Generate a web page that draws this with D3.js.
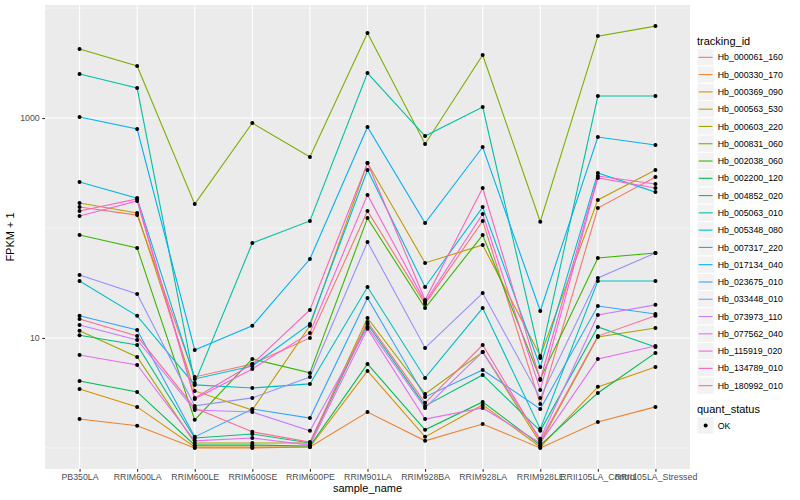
<!DOCTYPE html>
<html>
<head>
<meta charset="utf-8">
<script src="https://cdn.jsdelivr.net/npm/d3@7"></script>
<style>
  body { margin: 0; background: #fff; }
  svg text { font-family: "Liberation Sans", Arial, sans-serif; }
</style>
</head>
<body>
<svg id="chart" width="800" height="500"></svg>
<script>
// samples on the x axis
const samples = ['PB350LA', 'RRIM600LA', 'RRIM600LE', 'RRIM600SE', 'RRIM600PE', 'RRIM901LA',
  'RRIM928BA', 'RRIM928LA', 'RRIM928LE', 'RRII105LA_Control', 'RRII105LA_Stressed'];

// FPKM + 1 per gene, one value per sample
const Hb_000061_160 = [155, 131, 4.42, 5.80, 10.0, 143, 20.4, 116, 2.51, 152, 291];
const Hb_000330_170 = [1.83, 1.59, 1.0, 1.0, 1.02, 2.12, 1.16, 1.65, 1.0, 1.72, 2.36];
const Hb_000369_090 = [3.44, 2.36, 1.02, 1.02, 1.02, 5.01, 1.26, 2.46, 1.02, 3.59, 5.45];
const Hb_000563_530 = [169, 137, 3.30, 2.21, 12.9, 390, 48.1, 70.0, 6.86, 180, 337];
const Hb_000603_220 = [11.6, 6.72, 1.11, 1.11, 1.11, 15.2, 3.10, 7.46, 1.11, 10.2, 12.3];
const Hb_000831_060 = [4240, 2970, 165, 901, 442, 5930, 581, 3740, 114, 5560, 6860];
const Hb_002038_060 = [86.3, 65.8, 1.80, 6.44, 4.81, 123, 18.7, 86.3, 4.24, 53.4, 59.3];
const Hb_002200_120 = [4.06, 3.23, 1.06, 1.06, 1.04, 5.80, 1.46, 2.62, 1.06, 3.16, 7.31];
const Hb_004852_020 = [10.6, 8.63, 1.23, 1.34, 1.11, 13.4, 2.41, 4.61, 1.43, 12.6, 8.28];
const Hb_005063_010 = [2512, 1875, 3.90, 73.1, 116, 2566, 686, 1259, 6.58, 1585, 1585];
const Hb_005348_080 = [33.0, 15.9, 3.74, 3.51, 3.82, 29.1, 4.33, 18.7, 1.49, 33.0, 33.0];
const Hb_007317_220 = [262, 187, 4.24, 5.56, 13.4, 337, 29.1, 155, 5.45, 316, 212];
const Hb_017134_040 = [1021, 794, 7.78, 12.9, 52.2, 828, 111, 545, 17.6, 672, 568];
const Hb_023675_010 = [15.9, 11.8, 1.26, 2.26, 1.87, 23.1, 2.91, 5.12, 2.26, 19.5, 16.5];
const Hb_033448_010 = [37.4, 25.1, 2.41, 2.85, 4.42, 74.6, 8.11, 25.6, 2.85, 35.1, 59.3];
const Hb_073973_110 = [13.1, 9.6, 2.21, 2.12, 1.43, 12.6, 2.31, 7.46, 1.21, 16.2, 20.0];
const Hb_077562_040 = [7.0, 5.68, 1.16, 1.23, 1.06, 12.1, 1.83, 2.31, 1.11, 6.44, 8.46];
const Hb_115919_020 = [128.5, 176, 2.79, 5.23, 11.1, 200, 21.2, 134, 3.37, 285, 231];
const Hb_134789_010 = [143, 184, 2.85, 5.80, 18.0, 390, 22.1, 231, 4.15, 297, 251];
const Hb_180992_010 = [14.9, 10.4, 2.31, 1.40, 1.13, 14.0, 2.57, 8.63, 1.16, 10.4, 15.9];

const trackingIds = ['Hb_000061_160', 'Hb_000330_170', 'Hb_000369_090', 'Hb_000563_530',
  'Hb_000603_220', 'Hb_000831_060', 'Hb_002038_060', 'Hb_002200_120', 'Hb_004852_020',
  'Hb_005063_010', 'Hb_005348_080', 'Hb_007317_220', 'Hb_017134_040', 'Hb_023675_010',
  'Hb_033448_010', 'Hb_073973_110', 'Hb_077562_040', 'Hb_115919_020', 'Hb_134789_010',
  'Hb_180992_010'];
const seriesValues = [Hb_000061_160, Hb_000330_170, Hb_000369_090, Hb_000563_530,
  Hb_000603_220, Hb_000831_060, Hb_002038_060, Hb_002200_120, Hb_004852_020,
  Hb_005063_010, Hb_005348_080, Hb_007317_220, Hb_017134_040, Hb_023675_010,
  Hb_033448_010, Hb_073973_110, Hb_077562_040, Hb_115919_020, Hb_134789_010,
  Hb_180992_010];

const yMajor = [10, 1000];
const yMinor = [1, 100, 10000];
const quantStatus = ['OK'];

// ggplot hue palette for 20 levels
const palette = ['#F8766D', '#EA8331', '#D89000', '#C09B00', '#A3A500', '#7CAE00', '#39B600',
  '#00BB4E', '#00BF7D', '#00C1A3', '#00BFC4', '#00BAE0', '#00B0F6', '#35A2FF', '#9590FF',
  '#C77CFF', '#E76BF3', '#FA62DB', '#FF62BC', '#FF6C91'];

const series = trackingIds.map((id, i) => ({
  id: id,
  points: samples.map((s, j) => ({sample: s, value: seriesValues[i][j]}))
}));

const panel = {left: 45, right: 690, top: 5, bottom: 469};
const svg = d3.select('#chart');

const color = d3.scaleOrdinal().domain(trackingIds).range(palette);

const x = d3.scalePoint()
  .domain(samples)
  .range([panel.left, panel.right])
  .padding(0.6);

// log scale with the 5% expansion ggplot adds
const allVals = seriesValues.flat();
const lo = Math.log10(d3.min(allVals));
const hi = Math.log10(d3.max(allVals));
const pad = (hi - lo) * 0.05;
const y = d3.scaleLog()
  .domain([Math.pow(10, lo - pad), Math.pow(10, hi + pad)])
  .range([panel.bottom, panel.top]);

// panel background and grid
svg.append('rect')
  .attr('x', panel.left).attr('y', panel.top)
  .attr('width', panel.right - panel.left).attr('height', panel.bottom - panel.top)
  .attr('fill', '#EBEBEB');

const grid = svg.append('g');
grid.selectAll('.minor').data(yMinor).enter().append('line')
  .attr('x1', panel.left).attr('x2', panel.right)
  .attr('y1', d => y(d)).attr('y2', d => y(d))
  .attr('stroke', '#fff').attr('stroke-width', 0.55);
grid.selectAll('.major').data(yMajor).enter().append('line')
  .attr('x1', panel.left).attr('x2', panel.right)
  .attr('y1', d => y(d)).attr('y2', d => y(d))
  .attr('stroke', '#fff').attr('stroke-width', 1.1);
grid.selectAll('.vert').data(samples).enter().append('line')
  .attr('x1', d => x(d)).attr('x2', d => x(d))
  .attr('y1', panel.top).attr('y2', panel.bottom)
  .attr('stroke', '#fff').attr('stroke-width', 1.1);

// lines
const line = d3.line()
  .x(d => x(d.sample))
  .y(d => y(d.value));

svg.append('g').selectAll('path')
  .data(series)
  .enter().append('path')
  .attr('d', d => line(d.points))
  .attr('fill', 'none')
  .attr('stroke', d => color(d.id))
  .attr('stroke-width', 1.1);

// points
svg.append('g').selectAll('g')
  .data(series)
  .enter().append('g')
  .selectAll('circle')
  .data(d => d.points)
  .enter().append('circle')
  .attr('cx', d => x(d.sample))
  .attr('cy', d => y(d.value))
  .attr('r', 2)
  .attr('fill', '#000');

// axes
const xAxis = svg.append('g')
  .attr('transform', `translate(0, ${panel.bottom})`)
  .call(d3.axisBottom(x).tickSize(2.75).tickPadding(2.5));
const yAxis = svg.append('g')
  .attr('transform', `translate(${panel.left}, 0)`)
  .call(d3.axisLeft(y).tickValues(yMajor).tickFormat(d3.format('d')).tickSize(2.75).tickPadding(2.5));

[xAxis, yAxis].forEach(a => {
  a.select('.domain').remove();
  a.selectAll('.tick line').attr('stroke', '#333333').attr('stroke-width', 1.1);
  a.selectAll('.tick text')
    .attr('fill', '#4D4D4D')
    .style('font-size', '8.8px')
    .style('font-family', '"Liberation Sans", Arial, sans-serif');
});

svg.append('text')
  .attr('x', (panel.left + panel.right) / 2)
  .attr('y', 492)
  .attr('text-anchor', 'middle')
  .style('font-size', '11px')
  .text('sample_name');

svg.append('text')
  .attr('transform', `translate(14, ${(panel.top + panel.bottom) / 2}) rotate(-90)`)
  .attr('text-anchor', 'middle')
  .style('font-size', '11px')
  .text('FPKM + 1');

// legend: tracking_id
const legX = 697;
const keySize = 17.28;
const leg = svg.append('g');
leg.append('text')
  .attr('x', legX).attr('y', 44.5)
  .style('font-size', '11px')
  .text('tracking_id');

const keyTop = 48.7;
const keys = leg.selectAll('.key')
  .data(trackingIds)
  .enter().append('g')
  .attr('transform', (d, i) => `translate(${legX}, ${keyTop + i * keySize})`);
keys.append('rect')
  .attr('width', keySize).attr('height', keySize)
  .attr('fill', '#F2F2F2').attr('stroke', '#fff').attr('stroke-width', 1);
keys.append('line')
  .attr('x1', 1.7).attr('x2', keySize - 1.7)
  .attr('y1', keySize / 2).attr('y2', keySize / 2)
  .attr('stroke', d => color(d)).attr('stroke-width', 1.1);
keys.append('text')
  .attr('x', keySize + 3.5).attr('y', keySize / 2 + 3.1)
  .style('font-size', '8.8px')
  .text(d => d);

// legend: quant_status
const qTop = keyTop + trackingIds.length * keySize + 11;
leg.append('text')
  .attr('x', legX).attr('y', qTop + 8)
  .style('font-size', '11px')
  .text('quant_status');
const qKeys = leg.selectAll('.qkey')
  .data(quantStatus)
  .enter().append('g')
  .attr('transform', (d, i) => `translate(${legX}, ${qTop + 11.5 + i * keySize})`);
qKeys.append('rect')
  .attr('width', keySize).attr('height', keySize)
  .attr('fill', '#F2F2F2').attr('stroke', '#fff');
qKeys.append('circle')
  .attr('cx', keySize / 2).attr('cy', keySize / 2).attr('r', 2)
  .attr('fill', '#000');
qKeys.append('text')
  .attr('x', keySize + 3.5).attr('y', keySize / 2 + 3.1)
  .style('font-size', '8.8px')
  .text(d => d);
</script>
</body>
</html>
